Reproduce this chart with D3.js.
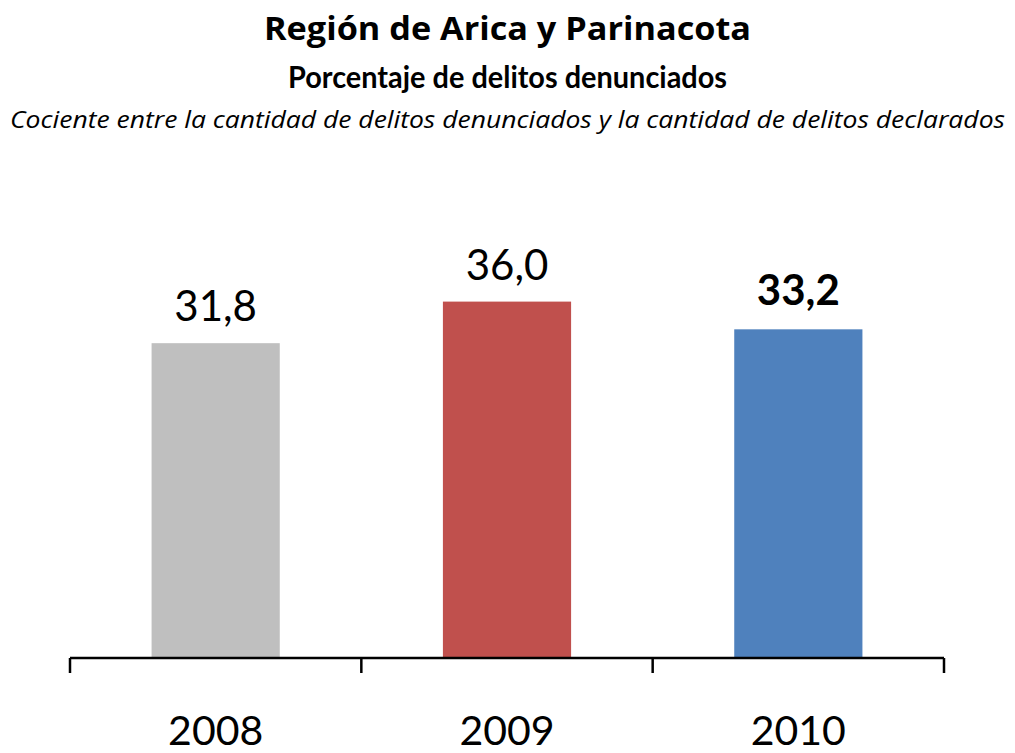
<!DOCTYPE html>
<html>
<head>
<meta charset="utf-8">
<script src="https://cdn.jsdelivr.net/npm/d3@7"></script>
<style>
  body { margin: 0; background: #fff; }
  text { font-family: Lato, "Open Sans", sans-serif; fill: #000; }
</style>
</head>
<body>
<svg id="chart" width="1015" height="753"></svg>
<script>
// data
var years = ["2008", "2009", "2010"];
var values = [31.8, 36.0, 33.2];
var barColors = ["#BFBFBF", "#C0504D", "#4F81BD"];
var labels = ["31,8", "36,0", "33,2"];

var svg = d3.select("#chart");

var x = d3.scaleBand()
    .domain(years)
    .range([70, 944])
    .paddingInner(0.56)
    .paddingOuter(0.28);

var y = d3.scaleLinear()
    .domain([0, 40])
    .range([658, 262]);

// titles (widths fitted to the original layout)
function title(txt, ty, font, size, weight, style, len) {
    svg.append("text")
        .attr("x", 507.5).attr("y", ty)
        .attr("text-anchor", "middle")
        .attr("textLength", len)
        .attr("lengthAdjust", "spacingAndGlyphs")
        .style("font-family", font)
        .style("font-size", size + "px")
        .style("font-weight", weight)
        .style("font-style", style)
        .text(txt);
}
title("Región de Arica y Parinacota", 40, "'Open Sans', Lato, sans-serif", 32, "bold", "normal", 487);
title("Porcentaje de delitos denunciados", 88, "Lato, 'Open Sans', sans-serif", 30, "bold", "normal", 439);
title("Cociente entre la cantidad de delitos denunciados y la cantidad de delitos declarados", 128, "'Open Sans', Lato, sans-serif", 24, "normal", "italic", 995);

// bars
svg.selectAll("rect.bar")
    .data(values)
    .enter()
    .append("rect")
    .attr("class", "bar")
    .attr("x", function(d, i) { return x(years[i]); })
    .attr("width", x.bandwidth())
    .attr("y", function(d) { return y(d); })
    .attr("height", function(d) { return y(0) - y(d); })
    .style("fill", function(d, i) { return barColors[i]; });

// value labels
svg.selectAll("text.val")
    .data(values)
    .enter()
    .append("text")
    .attr("class", "val")
    .attr("x", function(d, i) { return x(years[i]) + x.bandwidth() / 2; })
    .attr("y", function(d, i) { return y(d) - (i == 2 ? 24 : 22); })
    .attr("text-anchor", "middle")
    .style("font-size", "42px")
    .style("font-weight", function(d, i) { return i == 2 ? "bold" : "normal"; })
    .text(function(d, i) { return labels[i]; });

// x axis: line with ticks at category boundaries
var xAxis = d3.axisBottom(x).tickSize(0);
var gx = svg.append("g")
    .attr("transform", "translate(0," + y(0) + ")")
    .call(xAxis);
gx.select(".domain").remove();
gx.selectAll("text")
    .attr("dy", null)
    .attr("y", 87)
    .style("font-size", "41px")
    .style("font-family", "Lato, 'Open Sans', sans-serif");

gx.append("line")
    .attr("x1", 70).attr("x2", 944)
    .attr("y1", 0).attr("y2", 0)
    .style("stroke", "#000").style("stroke-width", 2.5);

var bounds = [70].concat(years.map(function(c) { return x(c) + x.bandwidth() + x.step() * x.paddingInner() / 2; }));
bounds[bounds.length - 1] = 944;
gx.selectAll("line.bound")
    .data(bounds)
    .enter()
    .append("line")
    .attr("class", "bound")
    .attr("x1", function(d) { return d; }).attr("x2", function(d) { return d; })
    .attr("y1", 0).attr("y2", 15)
    .style("stroke", "#000").style("stroke-width", 2.5);
</script>
</body>
</html>
